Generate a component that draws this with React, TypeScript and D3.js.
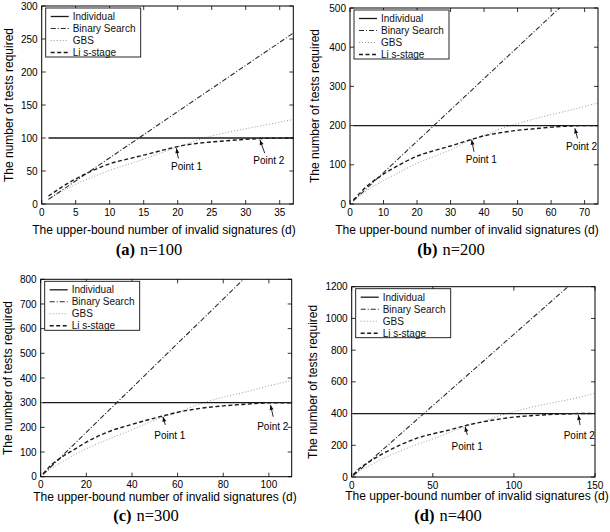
import React, { useRef, useEffect } from 'react';
import * as d3 from 'd3';

const seriesNames = ["Individual", "Binary Search", "GBS", "Li s-stage"];

// (a) n=100
const xTicksA = [0, 5, 10, 15, 20, 25, 30, 35];
const yTicksA = [0, 50, 100, 150, 200, 250, 300];
const dA = [1, 3, 5, 8, 10, 13, 15, 18, 20, 23, 25, 28, 30, 33, 37];
const gbsA = [8, 19, 30, 43, 51, 61, 68, 79, 86, 97, 103, 110, 114, 120, 128];
const liA = [12, 26, 38, 53, 61, 69, 74, 82, 87, 92, 94, 96.5, 98, 99.5, 100];
const binDA = [1, 37];
const binA = [7, 259];
const notesA = [
  { text: "Point 1", at: [21.3, 56.5], from: [20.1, 69], to: [19.8, 84.5] },
  { text: "Point 2", at: [33.4, 66.7], from: [32.8, 77], to: [32.1, 97] },
];

// (b) n=200
const xTicksB = [0, 10, 20, 30, 40, 50, 60, 70];
const yTicksB = [0, 100, 200, 300, 400, 500];
const dB = [1, 5, 10, 15, 20, 25, 30, 36, 40, 45, 50, 55, 60, 66, 70, 74];
const gbsB = [8, 34, 60, 82, 104, 121, 138, 163, 175, 192, 205, 217, 228, 240, 249, 258];
const liB = [10, 45, 76, 101, 122, 136, 148, 164, 174, 182, 188, 192, 196, 199, 200, 200];
const binDB = [1, 74];
const binB = [8, 592];
const notesB = [
  { text: "Point 1", at: [39.2, 114], from: [37, 133], to: [36.3, 164] },
  { text: "Point 2", at: [69.1, 146], from: [67.9, 167], to: [67.1, 193] },
];

// (c) n=300
const xTicksC = [0, 20, 40, 60, 80, 100];
const yTicksC = [0, 100, 200, 300, 400, 500, 600, 700, 800];
const dC = [1, 5, 10, 15, 20, 30, 40, 53, 60, 70, 80, 90, 100, 110];
const gbsC = [9, 35, 63, 90, 113, 153, 190, 240, 260, 296, 322, 344, 368, 390];
const liC = [12, 50, 84, 112, 140, 183, 212, 245, 261, 277, 287, 294, 299, 300];
const binDC = [1, 110];
const binC = [9, 990];
const notesC = [
  { text: "Point 1", at: [56.6, 166], from: [54.6, 210], to: [53.6, 243] },
  { text: "Point 2", at: [101.7, 203], from: [101.9, 243], to: [100.7, 291] },
];

// (d) n=400
const xTicksD = [0, 50, 100, 150];
const yTicksD = [0, 200, 400, 600, 800, 1000, 1200];
const dD = [1, 5, 10, 20, 30, 40, 50, 60, 70, 80, 93, 100, 110, 120, 130, 140, 150];
const gbsD = [9, 38, 66, 120, 164, 204, 240, 280, 318, 348, 392, 412, 438, 460, 480, 502, 528];
const liD = [14, 55, 90, 152, 202, 244, 272, 296, 324, 346, 368, 378, 386, 393, 397, 400, 400];
const binDD = [1, 150];
const binD = [9, 1350];
const notesD = [
  { text: "Point 1", at: [71.2, 195], from: [71.3, 265], to: [69.9, 317] },
  { text: "Point 2", at: [140.3, 265], from: [140.8, 328], to: [139.7, 391] },
];

const panels = [
  { id: "a", n: 100, xMax: 37, yMax: 300, xTicks: xTicksA, yTicks: yTicksA, d: dA, gbs: gbsA, li: liA, binD: binDA, bin: binA, notes: notesA,
    left: 41.7, right: 293.3, top: 6, bottom: 204, yLabelX: 9, xLabelX: 164, xLabelY: 234, capX: 149, capY: 255 },
  { id: "b", n: 200, xMax: 74, yMax: 500, xTicks: xTicksB, yTicks: yTicksB, d: dB, gbs: gbsB, li: liB, binD: binDB, bin: binB, notes: notesB,
    left: 350, right: 598, top: 8, bottom: 204, yLabelX: 315, xLabelX: 467, xLabelY: 234, capX: 451, capY: 255 },
  { id: "c", n: 300, xMax: 110, yMax: 800, xTicks: xTicksC, yTicks: yTicksC, d: dC, gbs: gbsC, li: liC, binD: binDC, bin: binC, notes: notesC,
    left: 40.7, right: 291.7, top: 279.3, bottom: 476.7, yLabelX: 8, xLabelX: 165, xLabelY: 501, capX: 146, capY: 521 },
  { id: "d", n: 400, xMax: 150, yMax: 1200, xTicks: xTicksD, yTicks: yTicksD, d: dD, gbs: gbsD, li: liD, binD: binDD, bin: binD, notes: notesD,
    left: 351.7, right: 595, top: 286.7, bottom: 477, yLabelX: 313, xLabelX: 477, xLabelY: 500, capX: 448, capY: 521 },
];

const styles = [
  { color: "#1a1a1a", width: 1.3, dash: null },
  { color: "#2a2a2a", width: 1.1, dash: "5,2,1,2" },
  { color: "#9a9a9a", width: 1, dash: "1,2" },
  { color: "#1a1a1a", width: 1.4, dash: "4,2.5" },
];

const sans = "'Liberation Sans', Arial, sans-serif";

function drawPanel(svg, p) {
  const x = d3.scaleLinear().domain([0, p.xMax]).range([p.left, p.right]);
  const y = d3.scaleLinear().domain([0, p.yMax]).range([p.bottom, p.top]);
  const g = svg.append("g");

  const clipId = "clip-" + p.id;
  g.append("clipPath").attr("id", clipId)
    .append("rect")
    .attr("x", p.left).attr("y", p.top)
    .attr("width", p.right - p.left).attr("height", p.bottom - p.top);

  // ticks (inward, mirrored) and labels
  p.xTicks.forEach(t => {
    g.append("line").attr("x1", x(t)).attr("x2", x(t)).attr("y1", p.bottom).attr("y2", p.bottom - 4)
      .attr("stroke", "#000").attr("stroke-width", 0.8);
    g.append("line").attr("x1", x(t)).attr("x2", x(t)).attr("y1", p.top).attr("y2", p.top + 4)
      .attr("stroke", "#000").attr("stroke-width", 0.8);
    g.append("text").attr("x", x(t)).attr("y", p.bottom + 11.5)
      .attr("text-anchor", "middle").attr("font-family", sans).attr("font-size", 10).text(t);
  });
  p.yTicks.forEach(t => {
    g.append("line").attr("x1", p.left).attr("x2", p.left + 4).attr("y1", y(t)).attr("y2", y(t))
      .attr("stroke", "#000").attr("stroke-width", 0.8);
    g.append("line").attr("x1", p.right).attr("x2", p.right - 4).attr("y1", y(t)).attr("y2", y(t))
      .attr("stroke", "#000").attr("stroke-width", 0.8);
    g.append("text").attr("x", p.left - 4).attr("y", y(t) + 3.6)
      .attr("text-anchor", "end").attr("font-family", sans).attr("font-size", 10).text(t);
  });

  // series
  const straight = d3.line().x(d => x(d[0])).y(d => y(d[1]));
  const smooth = d3.line().x(d => x(d[0])).y(d => y(d[1])).curve(d3.curveMonotoneX);
  const series = [
    [[1, p.n], [p.xMax, p.n]],
    p.binD.map((d, i) => [d, p.bin[i]]),
    p.d.map((d, i) => [d, p.gbs[i]]),
    p.d.map((d, i) => [d, p.li[i]]),
  ];
  const plot = g.append("g").attr("clip-path", `url(#${clipId})`);
  [2, 0, 1, 3].forEach(k => {
    plot.append("path")
      .attr("d", k >= 2 ? smooth(series[k]) : straight(series[k]))
      .attr("fill", "none")
      .attr("stroke", styles[k].color)
      .attr("stroke-width", styles[k].width)
      .attr("stroke-dasharray", styles[k].dash);
  });

  // annotations
  p.notes.forEach(a => {
    const x1 = x(a.from[0]), y1 = y(a.from[1]), x2 = x(a.to[0]), y2 = y(a.to[1]);
    g.append("line").attr("x1", x1).attr("y1", y1).attr("x2", x2).attr("y2", y2)
      .attr("stroke", "#111").attr("stroke-width", 0.9);
    const ang = Math.atan2(y2 - y1, x2 - x1);
    const hl = 5, hw = 2;
    const bx = x2 - hl * Math.cos(ang), by = y2 - hl * Math.sin(ang);
    const pts = [
      [x2, y2],
      [bx + hw * Math.sin(ang), by - hw * Math.cos(ang)],
      [bx - hw * Math.sin(ang), by + hw * Math.cos(ang)],
    ];
    g.append("polygon").attr("points", pts.map(q => q.join(",")).join(" ")).attr("fill", "#111");
    g.append("text").attr("x", x(a.at[0])).attr("y", y(a.at[1]) + 3.6)
      .attr("text-anchor", "middle").attr("font-family", sans).attr("font-size", 10).text(a.text);
  });

  // legend
  const lx = p.left + 4, ly = p.top + 2;
  g.append("rect").attr("x", lx).attr("y", ly).attr("width", 95).attr("height", 49)
    .attr("fill", "#fff").attr("stroke", "#111").attr("stroke-width", 0.9);
  seriesNames.forEach((name, k) => {
    const ry = ly + 8.5 + k * 12;
    g.append("line").attr("x1", lx + 5).attr("x2", lx + 23).attr("y1", ry).attr("y2", ry)
      .attr("stroke", styles[k].color).attr("stroke-width", styles[k].width)
      .attr("stroke-dasharray", styles[k].dash);
    g.append("text").attr("x", lx + 27).attr("y", ry + 3.6)
      .attr("font-family", sans).attr("font-size", 10).attr("fill", "#111").text(name);
  });

  // frame
  g.append("rect").attr("x", p.left).attr("y", p.top)
    .attr("width", p.right - p.left).attr("height", p.bottom - p.top)
    .attr("fill", "none").attr("stroke", "#000").attr("stroke-width", 1);

  // axis titles
  const cy = (p.top + p.bottom) / 2;
  g.append("text")
    .attr("transform", `translate(${p.yLabelX + 4},${cy}) rotate(-90)`)
    .attr("text-anchor", "middle").attr("font-family", sans).attr("font-size", 12)
    .text("The number of tests required");
  g.append("text").attr("x", p.xLabelX).attr("y", p.xLabelY)
    .attr("text-anchor", "middle").attr("font-family", sans).attr("font-size", 12)
    .text("The upper-bound number of invalid signatures (d)");

  // caption
  const cap = g.append("text").attr("x", p.capX).attr("y", p.capY)
    .attr("text-anchor", "middle").attr("font-family", "'Liberation Serif', 'Times New Roman', serif")
    .attr("font-size", 16.5);
  cap.append("tspan").attr("font-weight", "bold").text(`(${p.id})`);
  cap.append("tspan").attr("dx", 5).text(`n=${p.n}`);
}

export default function App() {
  const ref = useRef(null);

  useEffect(() => {
    const svg = d3.select(ref.current);
    svg.selectAll("*").remove();
    svg.append("rect").attr("width", 610).attr("height", 532).attr("fill", "#fff");
    panels.forEach(p => drawPanel(svg, p));
  }, []);

  return (
    <svg ref={ref} width={610} height={532}
      style={{ position: "absolute", left: 0, top: 0, display: "block" }} />
  );
}
